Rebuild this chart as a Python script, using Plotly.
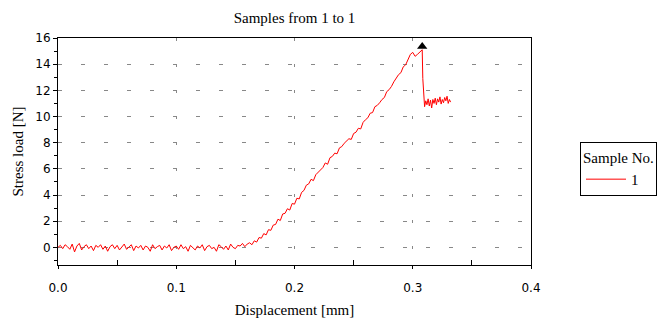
import plotly.graph_objects as go

# ---- data ----
base_x = [0.000, 0.002, 0.004, 0.006, 0.008, 0.010, 0.012, 0.014, 0.016, 0.018,
          0.020, 0.022, 0.024, 0.026, 0.028, 0.030, 0.032, 0.034, 0.036, 0.038,
          0.040, 0.042, 0.044, 0.046, 0.048, 0.050, 0.052, 0.054, 0.056, 0.058,
          0.060, 0.062, 0.064, 0.066, 0.068, 0.070, 0.072, 0.074, 0.076, 0.078,
          0.080, 0.082, 0.084, 0.086, 0.088, 0.090, 0.092, 0.094, 0.096, 0.098,
          0.100, 0.102, 0.104, 0.106, 0.108, 0.110, 0.112, 0.114, 0.116, 0.118,
          0.120, 0.122, 0.124, 0.126, 0.128, 0.130, 0.132, 0.134, 0.136, 0.138,
          0.140, 0.142, 0.144, 0.146, 0.148, 0.150, 0.152, 0.154, 0.156, 0.158, 0.160]
base_y = [0.0, 0.15, -0.1, 0.2, 0.05, -0.15, 0.25, -0.35, 0.1, 0.3,
          -0.2, 0.05, 0.2, -0.1, 0.1, -0.25, 0.15, 0.0, 0.2, -0.15,
          0.1, -0.3, 0.05, 0.2, -0.1, 0.15, -0.2, 0.0, 0.25, -0.15,
          0.05, 0.2, -0.25, 0.1, -0.05, 0.15, -0.2, 0.1, 0.0, -0.3,
          0.2, -0.1, 0.05, 0.15, -0.2, 0.1, -0.05, 0.2, -0.25, 0.0,
          0.1, -0.15, 0.2, -0.1, 0.05, -0.3, 0.15, 0.0, -0.2, 0.1,
          -0.05, 0.2, -0.25, 0.05, 0.15, -0.1, 0.0, -0.3, 0.2, 0.05,
          -0.15, 0.1, -0.2, 0.25, 0.0, -0.1, 0.15, 0.1, 0.3, 0.05, 0.25]

rise_x = [0.162, 0.164, 0.166, 0.168, 0.170, 0.172, 0.174, 0.176, 0.178, 0.180,
          0.182, 0.184, 0.186, 0.188, 0.190, 0.192, 0.194, 0.196, 0.198, 0.200,
          0.202, 0.204, 0.206, 0.208, 0.210, 0.212, 0.214, 0.216, 0.218, 0.220,
          0.222, 0.224, 0.226, 0.228, 0.230, 0.232, 0.234, 0.236, 0.238, 0.240,
          0.242, 0.244, 0.246, 0.248, 0.250, 0.252, 0.254, 0.256, 0.258, 0.260,
          0.262, 0.264, 0.266, 0.268, 0.270, 0.272, 0.274, 0.276, 0.278, 0.280,
          0.282, 0.284, 0.286, 0.288, 0.290, 0.292, 0.294, 0.296, 0.298, 0.300,
          0.302, 0.304, 0.306, 0.308]
rise_y = [0.35, 0.2, 0.5, 0.4, 0.75, 0.7, 1.05, 0.95, 1.35, 1.3,
          1.7, 1.75, 2.15, 2.05, 2.55, 2.6, 2.95, 2.85, 3.35, 3.3,
          3.75, 3.7, 4.2, 4.35, 4.75, 4.85, 5.2, 5.1, 5.55, 5.75,
          5.95, 6.1, 6.45, 6.35, 6.85, 6.95, 7.2, 7.15, 7.6, 7.7,
          7.95, 8.15, 8.3, 8.25, 8.7, 8.8, 9.1, 9.05, 9.55, 9.75,
          9.9, 10.25, 10.3, 10.75, 10.85, 11.05, 11.3, 11.45, 11.9, 12.05,
          12.3, 12.65, 12.95, 13.2, 13.35, 13.8, 13.95, 14.35, 14.75, 14.9,
          14.6, 14.75, 14.9, 15.1]

tail_x = [0.3085, 0.310, 0.311, 0.312, 0.313, 0.314, 0.315, 0.316, 0.317, 0.318,
          0.319, 0.320, 0.321, 0.322, 0.323, 0.324, 0.325, 0.326, 0.327, 0.328,
          0.329, 0.330, 0.331, 0.332]
tail_y = [12.9, 10.75, 11.2, 10.9, 11.35, 10.8, 11.25, 10.65, 11.3, 11.0,
          11.4, 10.9, 11.35, 11.1, 11.5, 10.95, 11.3, 11.05, 11.45, 11.2,
          11.55, 11.0, 11.3, 11.1]

peak_x = [0.308]
peak_y = [15.35]

sample_name = "1"
x_ticks = [0.0, 0.1, 0.2, 0.3, 0.4]
x_tick_labels = ["0.0", "0.1", "0.2", "0.3", "0.4"]
y_ticks = [0, 2, 4, 6, 8, 10, 12, 14, 16]

disp = base_x + rise_x + tail_x
load = base_y + rise_y + tail_y

serif = "Liberation Serif, Times New Roman, serif"
sans = "DejaVu Sans, Verdana, sans-serif"

# page body has an 8px margin, so the figure is 8px smaller and shifted
W, H = 661, 312

fig = go.Figure()
fig.add_trace(go.Scatter(x=disp, y=load, mode="lines", name=sample_name,
                         line=dict(color="#ff0000", width=1)))
fig.add_trace(go.Scatter(x=peak_x, y=peak_y, mode="markers", showlegend=False,
                         marker=dict(symbol="triangle-up", size=9, color="black")))

fig.update_layout(
    width=W, height=H,
    margin=dict(l=50, r=138, t=30, b=55, autoexpand=False),
    paper_bgcolor="white", plot_bgcolor="white",
    title=dict(text="Samples from 1 to 1", x=0.5, xref="paper", xanchor="center",
               y=1 - 10 / H, yref="container", yanchor="middle",
               font=dict(family=serif, size=15, color="black")),
    legend=dict(
        title=dict(text="Sample No.", side="top", font=dict(family=serif, size=15, color="black")),
        font=dict(family=serif, size=15, color="black"),
        x=1.1036, xanchor="left", y=0.54, yanchor="top",
        bordercolor="black", borderwidth=1, bgcolor="white",
        tracegroupgap=0, itemwidth=40,
    ),
    showlegend=True,
)

fig.update_xaxes(
    range=[0, 0.4], tickvals=x_ticks, ticktext=x_tick_labels,
    automargin=False,
    showline=True, linecolor="black", linewidth=1, mirror=True,
    ticks="outside", ticklen=3, tickcolor="black",
    ticklabelstandoff=9,
    minor=dict(tickvals=[0.05, 0.15, 0.25, 0.35], ticks="inside", ticklen=5, tickcolor="black", showgrid=False),
    showgrid=True, gridcolor="#888888", gridwidth=1, griddash="3px,23px",
    zeroline=False,
    tickfont=dict(family=sans, size=12, color="black"),
    title=dict(text="Displacement [mm]", standoff=10, font=dict(family=serif, size=15, color="black")),
)
fig.update_yaxes(
    range=[-1.35, 16], tickvals=y_ticks,
    automargin=False,
    showline=True, linecolor="black", linewidth=1, mirror=True,
    ticks="outside", ticklen=4, tickcolor="black",
    minor=dict(dtick=1, tick0=0, ticks="outside", ticklen=3, tickcolor="black", showgrid=False),
    showgrid=True, gridcolor="#888888", gridwidth=1, griddash="4px,19px",
    zeroline=False,
    tickfont=dict(family=sans, size=12, color="black"),
    title=dict(text="Stress load [N]", standoff=8, font=dict(family=serif, size=15, color="black")),
)

fig.write_html("out.html")
